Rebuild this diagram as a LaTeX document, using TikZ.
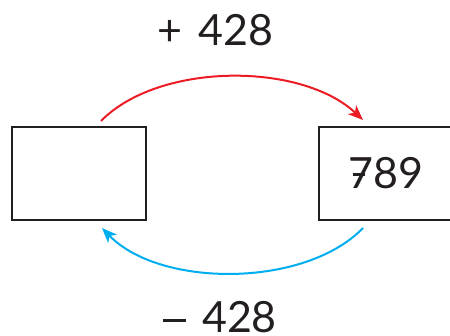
\documentclass[tikz,border=0pt]{standalone}
\usepackage{fontspec}
\setmainfont{Lato}
\usetikzlibrary{arrows.meta}
\definecolor{ink}{HTML}{231F20}
\definecolor{addred}{HTML}{ED1C24}
\definecolor{subblue}{HTML}{00AEEF}
% a seven with a crossbar, and a long minus sign
\newcommand{\crossseven}{\makebox[0pt][l]{\hspace{0.1em}\rule[0.31em]{0.27em}{0.065em}}7}
\newcommand{\longminus}{\rule[0.25em]{0.53em}{0.065em}}
\begin{document}
\begin{tikzpicture}[x=1pt,y=1pt,
  numbox/.style={draw=ink, line width=2pt, minimum width=134pt, minimum height=93pt,
    inner sep=0pt, text=ink, font=\fontsize{43}{43}\selectfont},
  oplabel/.style={text=ink, font=\fontsize{43}{43}\selectfont, inner sep=0pt, anchor=base},
  flow/.style={line width=2pt, -{Stealth[length=15pt,width=12pt,inset=4pt]}}]
\useasboundingbox (0,0) rectangle (450,336);
\clip (0,0) rectangle (450,336);

% the two number boxes
\node[numbox] (L) at (79,162.5) {};
\node[numbox] (R) at (386,162.5) {\crossseven89};

% operation labels
\node[oplabel] (plus) at (215.5,290) {+\hspace{0.12em} 428};
\node[oplabel] (minus) at (220,3.5) {\longminus\hspace{0.12em} 428};

% arrow end points just off the box edges
\coordinate (Ltop) at ([xshift=22pt,yshift=5pt]L.north);
\coordinate (Rtop) at ([xshift=-23pt,yshift=6pt]R.north);
\coordinate (Rbot) at ([xshift=-23pt,yshift=-7pt]R.south);
\coordinate (Lbot) at ([xshift=23pt,yshift=-7pt]L.south);

% forward: add, back: subtract
\draw[flow, addred] (Ltop) .. controls ([xshift=58pt,yshift=59pt]Ltop) and ([xshift=-62pt,yshift=58pt]Rtop) .. (Rtop);
\draw[flow, subblue] (Rbot) .. controls ([xshift=-58pt,yshift=-60pt]Rbot) and ([xshift=58pt,yshift=-60pt]Lbot) .. (Lbot);
\end{tikzpicture}
\end{document}
